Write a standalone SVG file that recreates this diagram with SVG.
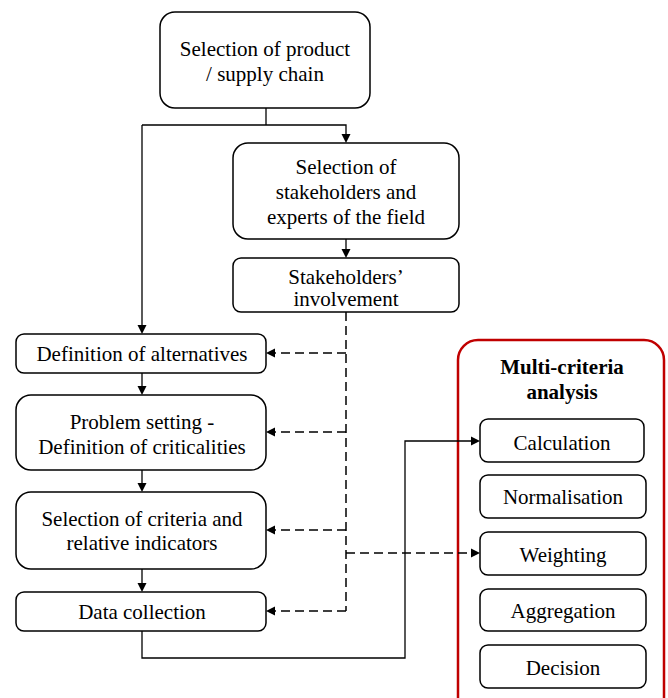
<svg xmlns="http://www.w3.org/2000/svg" xmlns:xlink="http://www.w3.org/1999/xlink" width="668" height="698" viewBox="0 0 668 698">
<style>
.box{fill:#fff;stroke:#000;stroke-width:1.5}
.c{fill:none;stroke:#000;stroke-width:1.3}
.d{fill:none;stroke:#000;stroke-width:1.5;stroke-dasharray:9,5}
.t{font-family:'Liberation Serif',serif;font-size:21px;fill:#000}
.tb{font-family:'Liberation Serif',serif;font-size:21px;font-weight:bold;fill:#000}
</style>
<defs>
<path id="ah" d="M-9,-4.5 L0,0 L-9,4.5 Z" fill="#000"/>
</defs>
<rect width="668" height="698" fill="#fff"/>
<g id="mca">
<rect x="458" y="340" width="206" height="380" rx="20" fill="#fff" stroke="#c00000" stroke-width="2.5"/>
<text class="tb" text-anchor="middle" x="562" y="374">Multi-criteria</text>
<text class="tb" text-anchor="middle" x="562" y="399">analysis</text>
</g>
<g id="connectors">
<path class="c" d="M266,108 V125"/>
<path class="c" d="M142,125 H346 V140"/>
<path class="c" d="M142,125 V331"/>
<path class="c" d="M346,239 V255"/>
<path class="c" d="M142,373 V392"/>
<path class="c" d="M142,470 V489"/>
<path class="c" d="M142,569 V589"/>
<path class="c" d="M142,631 V658 H405 V441 H477"/>
<path class="d" d="M346,312 V611"/>
<path class="d" d="M346,353 H270"/>
<path class="d" d="M346,432 H270"/>
<path class="d" d="M346,530 H270"/>
<path class="d" d="M346,611 H270"/>
<path class="d" d="M346,553 H476"/>
<use xlink:href="#ah" href="#ah" transform="translate(346,143) rotate(90)"/>
<use xlink:href="#ah" href="#ah" transform="translate(142,334) rotate(90)"/>
<use xlink:href="#ah" href="#ah" transform="translate(346,258) rotate(90)"/>
<use xlink:href="#ah" href="#ah" transform="translate(142,395) rotate(90)"/>
<use xlink:href="#ah" href="#ah" transform="translate(142,492) rotate(90)"/>
<use xlink:href="#ah" href="#ah" transform="translate(142,592) rotate(90)"/>
<use xlink:href="#ah" href="#ah" transform="translate(480,441)"/>
<use xlink:href="#ah" href="#ah" transform="translate(480,553)"/>
<use xlink:href="#ah" href="#ah" transform="translate(266,353) rotate(180)"/>
<use xlink:href="#ah" href="#ah" transform="translate(266,432) rotate(180)"/>
<use xlink:href="#ah" href="#ah" transform="translate(266,530) rotate(180)"/>
<use xlink:href="#ah" href="#ah" transform="translate(266,611) rotate(180)"/>
</g>
<g id="n1"><rect class="box" x="160" y="12" width="210" height="96" rx="15"/>
<text class="t" text-anchor="middle" x="265" y="56">Selection of product</text><text class="t" text-anchor="middle" x="265" y="81">/ supply chain</text></g>
<g id="n2"><rect class="box" x="233" y="143" width="226" height="96" rx="15"/>
<text class="t" text-anchor="middle" x="346" y="174">Selection of</text><text class="t" text-anchor="middle" x="346" y="199">stakeholders and</text><text class="t" text-anchor="middle" x="346" y="224">experts of the field</text></g>
<g id="n3"><rect class="box" x="233" y="258" width="226" height="54" rx="8"/>
<text class="t" text-anchor="middle" x="346" y="284">Stakeholders&#8217;</text><text class="t" text-anchor="middle" x="346" y="306">involvement</text></g>
<g id="n4"><rect class="box" x="16" y="334" width="250" height="39" rx="8"/>
<text class="t" text-anchor="middle" x="142" y="361">Definition of alternatives</text></g>
<g id="n5"><rect class="box" x="16" y="395" width="250" height="75" rx="15"/>
<text class="t" text-anchor="middle" x="142" y="429">Problem setting -</text><text class="t" text-anchor="middle" x="142" y="454">Definition of criticalities</text></g>
<g id="n6"><rect class="box" x="16" y="492" width="250" height="77" rx="15"/>
<text class="t" text-anchor="middle" x="142" y="526">Selection of criteria and</text><text class="t" text-anchor="middle" x="142" y="550">relative indicators</text></g>
<g id="n7"><rect class="box" x="16" y="592" width="250" height="39" rx="8"/>
<text class="t" text-anchor="middle" x="142" y="619">Data collection</text></g>
<g id="m1"><rect class="box" x="480" y="419" width="164" height="43" rx="8"/>
<text class="t" text-anchor="middle" x="562" y="450">Calculation</text></g>
<g id="m2"><rect class="box" x="480" y="475" width="166" height="43" rx="8"/>
<text class="t" text-anchor="middle" x="563" y="504">Normalisation</text></g>
<g id="m3"><rect class="box" x="480" y="532" width="166" height="43" rx="8"/>
<text class="t" text-anchor="middle" x="563" y="562">Weighting</text></g>
<g id="m4"><rect class="box" x="480" y="589" width="166" height="42" rx="8"/>
<text class="t" text-anchor="middle" x="563" y="618">Aggregation</text></g>
<g id="m5"><rect class="box" x="480" y="645" width="166" height="43" rx="8"/>
<text class="t" text-anchor="middle" x="563" y="675">Decision</text></g>
</svg>
